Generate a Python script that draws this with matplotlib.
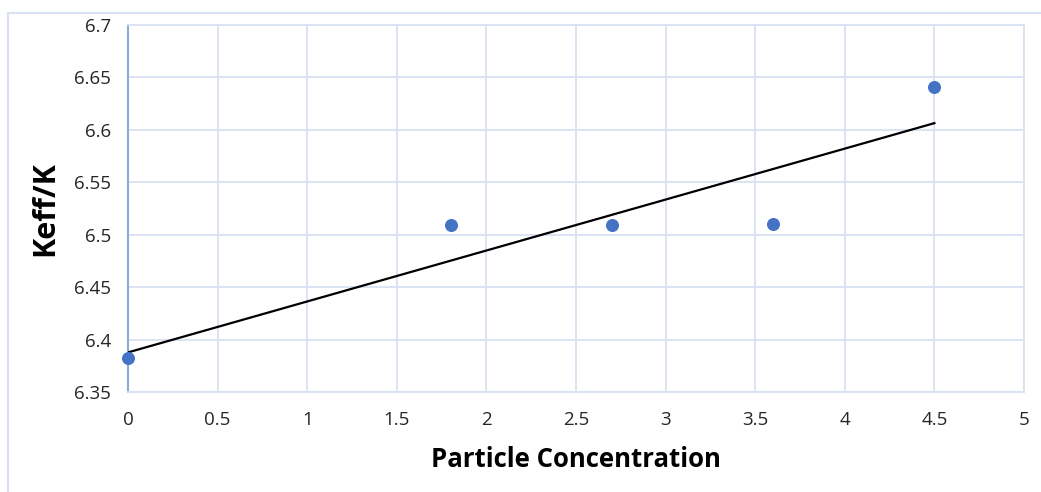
import numpy as np
import matplotlib
matplotlib.use("Agg")
import matplotlib.pyplot as plt
from matplotlib.lines import Line2D

# Data
concentration = [0.0, 1.8, 2.7, 3.6, 4.5]
keff_ratio = [6.382, 6.509, 6.509, 6.510, 6.641]
x_ticks = [0, 0.5, 1, 1.5, 2, 2.5, 3, 3.5, 4, 4.5, 5]
x_tick_labels = ["0", "0.5", "1", "1.5", "2", "2.5", "3", "3.5", "4", "4.5", "5"]
y_ticks = [6.35, 6.4, 6.45, 6.5, 6.55, 6.6, 6.65, 6.7]
y_tick_labels = ["6.35", "6.4", "6.45", "6.5", "6.55", "6.6", "6.65", "6.7"]

plt.rcParams['font.family'] = ['Open Sans', 'DejaVu Sans']

W, H = 1041, 492
fig = plt.figure(figsize=(W / 100, H / 100), dpi=100)
ax = fig.add_axes([128 / W, 1 - 392 / H, (1024 - 128) / W, (392 - 25) / H])

grid_col = "#d9e2f3"
# outer chart border
fig.add_artist(Line2D([8 / W, 8 / W], [1 - 13 / H, 0], transform=fig.transFigure, color=grid_col, lw=1.5))
fig.add_artist(Line2D([8 / W, 1], [1 - 13 / H, 1 - 13 / H], transform=fig.transFigure, color=grid_col, lw=1.5))

ax.set_xlim(0, 5)
ax.set_ylim(6.35, 6.7)
ax.set_xticks(x_ticks)
ax.set_xticklabels(x_tick_labels)
ax.set_yticks(y_ticks)
ax.set_yticklabels(y_tick_labels)
ax.grid(True, color=grid_col, lw=1.3)
ax.set_axisbelow(True)
for s in ["top", "right", "bottom"]:
    ax.spines[s].set_color(grid_col)
    ax.spines[s].set_linewidth(1.3)
ax.spines["left"].set_color("#8eaadb")
ax.spines["left"].set_linewidth(1.5)
ax.tick_params(length=0, labelsize=13.5, colors="#262626")
ax.tick_params(axis="y", pad=12)
ax.tick_params(axis="x", pad=14)

# linear trendline
m, b = np.polyfit(concentration, keff_ratio, 1)
xs = np.array([min(concentration), max(concentration)])
ax.plot(xs, m * xs + b, color="black", lw=1.6, zorder=3)

ax.scatter(concentration, keff_ratio, s=70, color="#4472c4", zorder=4, clip_on=False)

ax.set_xlabel("Particle Concentration", fontsize=18.5, fontweight="bold", labelpad=12)
ax.set_ylabel("Keff/K", fontsize=22, fontweight="bold", labelpad=10)

fig.savefig("out.png", dpi=100)
